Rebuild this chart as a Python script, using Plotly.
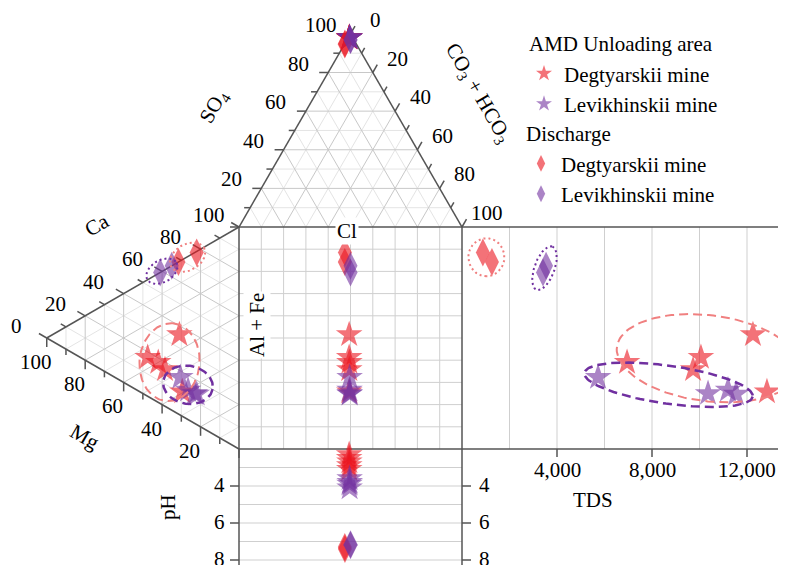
import math
import plotly.graph_objects as go

# ---------------- data (percent of meq, TDS mg/L, pH) ----------------
# AMD unloading area - Degtyarskii mine (stars)
deg_amd_so4 = [98.0, 97.8, 98.2, 97.9, 98.1]
deg_amd_cl = [1.6, 1.7, 1.4, 1.6, 1.5]
deg_amd_hco3 = [0.4, 0.5, 0.4, 0.5, 0.4]
deg_amd_ca = [36.0, 17.5, 18.0, 16.5, 11.0]
deg_amd_mg = [31.0, 47.5, 42.0, 38.5, 29.5]
deg_amd_alfe = [33.0, 35.0, 40.0, 45.0, 59.5]
deg_amd_tds = [12250, 10060, 6950, 9730, 12840]
deg_amd_ph = [2.3, 2.5, 2.7, 2.9, 3.1]

# AMD unloading area - Levikhinskii mine (stars)
lev_amd_so4 = [98.0, 98.1, 97.9, 98.0]
lev_amd_cl = [1.4, 1.3, 1.5, 1.4]
lev_amd_hco3 = [0.6, 0.6, 0.6, 0.6]
lev_amd_ca = [17.0, 13.5, 13.3, 13.7]
lev_amd_mg = [30.5, 23.0, 26.5, 22.0]
lev_amd_alfe = [52.5, 63.5, 60.2, 64.3]
lev_amd_tds = [5730, 10360, 11200, 11540]
lev_amd_ph = [3.6, 3.8, 3.9, 4.1]

# Discharge - Degtyarskii mine (diamonds)
deg_dis_so4 = [95.0, 94.5]
deg_dis_cl = [5.0, 5.3]
deg_dis_hco3 = [0.0, 0.2]
deg_dis_ca = [77.5, 68.5]
deg_dis_mg = [22.0, 31.5]
deg_dis_alfe = [0.5, 0.0]
deg_dis_tds = [880, 1260]
deg_dis_ph = [7.4, 7.3]

# Discharge - Levikhinskii mine (diamonds)
lev_dis_so4 = [97.0, 96.8]
lev_dis_cl = [1.5, 1.6]
lev_dis_hco3 = [1.5, 1.6]
lev_dis_ca = [65.0, 59.0]
lev_dis_mg = [35.0, 41.0]
lev_dis_alfe = [0.0, 0.0]
lev_dis_tds = [3540, 3410]
lev_dis_ph = [7.2, 7.15]

tern_ticks = [0, 20, 40, 60, 80, 100]
ph_ticks = [4, 6, 8]
tds_ticks = [4000, 8000, 12000]
tds_tick_text = ["4,000", "8,000", "12,000"]

# ---------------- diagram geometry (page pixels) ----------------
W, H = 786, 565
OFF = 8  # page body margin of the exported html
SQ_L, SQ_R, SQ_T, SQ_B = 239.0, 462.0, 227.0, 449.0
SX = SQ_R - SQ_L
SY = SQ_B - SQ_T
R3 = math.sqrt(3) / 2
APEX_TOP = ((SQ_L + SQ_R) / 2, SQ_T - SX * R3)
APEX_LEFT = (SQ_L - SY * R3, (SQ_T + SQ_B) / 2)
AN_CORNERS = [APEX_TOP, (SQ_L, SQ_T), (SQ_R, SQ_T)]      # SO4, Cl, CO3+HCO3
CAT_CORNERS = [(SQ_L, SQ_T), APEX_LEFT, (SQ_L, SQ_B)]    # Ca, Mg, Al+Fe
TDS_PX = 95.0 / 4000.0
PH0, PH_PX = 2.0, 18.5

FONT = "Liberation Serif"
FS = 21
DARK = "#555555"


def tern(a, b, c, corners):
    s = a + b + c
    return (sum(v * p[0] for v, p in zip((a, b, c), corners)) / s,
            sum(v * p[1] for v, p in zip((a, b, c), corners)) / s)


def tds_x(t):
    return SQ_R + t * TDS_PX


def ph_y(p):
    return SQ_B + (p - PH0) * PH_PX


fig = go.Figure()


def add_segs(segs, color, width, dash=None):
    xs, ys = [], []
    for (x0, y0), (x1, y1) in segs:
        xs += [x0, x1, None]
        ys += [y0, y1, None]
    fig.add_trace(go.Scatter(x=xs, y=ys, mode="lines", hoverinfo="skip", showlegend=False,
                             line=dict(color=color, width=width, dash=dash)))


def tern_grid(corners, levels):
    segs = []
    for v in levels:
        f = v / 100.0
        for i in range(3):
            p0 = [0, 0, 0]
            p1 = [0, 0, 0]
            p0[i] = p1[i] = f
            p0[(i + 1) % 3] = 1 - f
            p1[(i + 2) % 3] = 1 - f
            segs.append((tern(*p0, corners), tern(*p1, corners)))
    return segs


minor = [10, 30, 50, 70, 90]
major = [20, 40, 60, 80]
add_segs(tern_grid(AN_CORNERS, minor) + tern_grid(CAT_CORNERS, minor), "#e4e4e4", 1)
add_segs(tern_grid(AN_CORNERS, major) + tern_grid(CAT_CORNERS, major), "#c8c8c8", 1)

# square grid
sq = []
for i in range(1, 10):
    x = SQ_L + SX * i / 10
    y = SQ_T + SY * i / 10
    sq.append(((x, SQ_T), (x, SQ_B)))
    sq.append(((SQ_L, y), (SQ_R, y)))
# pH grid
for p in range(3, 9):
    sq.append(((SQ_L, ph_y(p)), (SQ_R, ph_y(p))))
# TDS grid
for t in range(2000, 14000, 2000):
    sq.append(((tds_x(t), SQ_T), (tds_x(t), SQ_B)))
add_segs(sq, "#cfcfcf", 1)

# outlines
out = [
    ((SQ_L, SQ_T), APEX_TOP), (APEX_TOP, (SQ_R, SQ_T)),
    ((SQ_L, SQ_T), APEX_LEFT), (APEX_LEFT, (SQ_L, SQ_B)),
    ((SQ_L, SQ_T), (W + 5, SQ_T)), ((SQ_L, SQ_B), (W + 5, SQ_B)),
    ((SQ_L, SQ_T), (SQ_L, H + 5)), ((SQ_R, SQ_T), (SQ_R, H + 5)),
]
ticks = []
annotations = []


def ann(x, y, text, angle=0, **kw):
    d = dict(x=x, y=y, xref="x", yref="y", text=text, showarrow=False, textangle=angle,
             font=dict(family=FONT, size=FS, color="black"))
    d.update(kw)
    annotations.append(d)


def edge_ticks(point_fn, direction, lab_off, labels):
    dx, dy = direction
    for v in range(0, 101, 10):
        x, y = point_fn(v / 100.0)
        L = 9 if v % 20 == 0 else 6
        ticks.append(((x, y), (x + dx * L, y + dy * L)))
        if v in labels:
            ann(x + lab_off[0], y + lab_off[1], str(v))


# SO4 on the Cl-SO4 edge
edge_ticks(lambda f: tern(f, 1 - f, 0, AN_CORNERS), (-1, 0), (-30, -9), [20, 40, 60, 80, 100])
# CO3+HCO3 on the SO4-CO3 edge
edge_ticks(lambda f: tern(1 - f, 0, f, AN_CORNERS), (0.5, -R3), (25, -14), tern_ticks)
# Ca on the Mg-Ca edge
edge_ticks(lambda f: tern(f, 1 - f, 0, CAT_CORNERS), (-R3, -0.5), (-30, -12), tern_ticks)
# Mg on the Mg-AlFe edge
edge_ticks(lambda f: tern(0, f, 1 - f, CAT_CORNERS), (0, 1), (-11, 24), [20, 40, 60, 80, 100])

for p in ph_ticks:
    y = ph_y(p)
    ticks.append(((SQ_L, y), (SQ_L - 9, y)))
    ticks.append(((SQ_R, y), (SQ_R + 9, y)))
    ann(SQ_L - 12, y - 1, str(p), xanchor="right")
    ann(SQ_R + 15, y - 1, str(p), xanchor="left")
for t, s in zip(tds_ticks, tds_tick_text):
    ticks.append(((tds_x(t), SQ_B), (tds_x(t), SQ_B + 8)))
    ann(tds_x(t), SQ_B + 21, s)

add_segs(out + ticks, DARK, 1.5)

# axis titles
ann(214, 107, "SO<sub>4</sub>", -60)
ann(478, 93, "CO<sub>3</sub> + HCO<sub>3</sub>", 60)
ann(97, 225, "Ca", -30)
ann(85, 437, "Mg", 30)
ann(347, 231, "Cl", bgcolor="white")
ann(257, 325, "Al + Fe", -90, bgcolor="white")
ann(168, 507, "pH", -90)
ann(593, 500, "TDS")

# ---------------- samples ----------------
RED = "rgba(235,20,30,0.6)"
PUR = "rgba(115,50,160,0.6)"
RED_L = "#f08080"
PUR_L = "#7030a0"

groups = [
    ("amd", "legend", "AMD Unloading area", "Degtyarskii mine", "star", RED,
     deg_amd_so4, deg_amd_cl, deg_amd_hco3, deg_amd_ca, deg_amd_mg, deg_amd_alfe, deg_amd_tds, deg_amd_ph),
    ("amd", "legend", "AMD Unloading area", "Levikhinskii mine", "star", PUR,
     lev_amd_so4, lev_amd_cl, lev_amd_hco3, lev_amd_ca, lev_amd_mg, lev_amd_alfe, lev_amd_tds, lev_amd_ph),
    ("dis", "legend2", "Discharge", "Degtyarskii mine", "diamond-tall", RED,
     deg_dis_so4, deg_dis_cl, deg_dis_hco3, deg_dis_ca, deg_dis_mg, deg_dis_alfe, deg_dis_tds, deg_dis_ph),
    ("dis", "legend2", "Discharge", "Levikhinskii mine", "diamond-tall", PUR,
     lev_dis_so4, lev_dis_cl, lev_dis_hco3, lev_dis_ca, lev_dis_mg, lev_dis_alfe, lev_dis_tds, lev_dis_ph),
]

panel_pts = {}
for gid, leg, gtitle, name, sym, col, so4, cl, hco3, ca, mg, alfe, tds, ph in groups:
    an = [tern(a, b, c, AN_CORNERS) for a, b, c in zip(so4, cl, hco3)]
    ct = [tern(a, b, c, CAT_CORNERS) for a, b, c in zip(ca, mg, alfe)]
    sqp = [(a[0], c[1]) for a, c in zip(an, ct)]
    tdp = [(tds_x(t), c[1]) for t, c in zip(tds, ct)]
    php = [(a[0], ph_y(p)) for a, p in zip(an, ph)]
    panel_pts[(gid, name, "cat")] = ct
    panel_pts[(gid, name, "tds")] = tdp
    pts = an + ct + sqp + tdp + php
    fig.add_trace(go.Scatter(
        x=[p[0] for p in pts], y=[p[1] for p in pts], mode="markers", name=name,
        legend=leg, legendgroup=gid,
        legendgrouptitle=dict(text=gtitle, font=dict(family=FONT, size=FS, color="black")),
        marker=dict(symbol=sym, size=20, color=col, line=dict(width=0)),
    ))


# ---------------- group outlines (ellipses around sample clusters) ----------------
def ellipse(pts, dx, dy, a, b, ang, color, width, dash):
    cx = sum(p[0] for p in pts) / len(pts) + dx
    cy = sum(p[1] for p in pts) / len(pts) + dy
    th = math.radians(ang)
    xs, ys = [], []
    for k in range(121):
        t = 2 * math.pi * k / 120
        xs.append(cx + a * math.cos(t) * math.cos(th) - b * math.sin(t) * math.sin(th))
        ys.append(cy + a * math.cos(t) * math.sin(th) + b * math.sin(t) * math.cos(th))
    fig.add_trace(go.Scatter(x=xs, y=ys, mode="lines", hoverinfo="skip", showlegend=False,
                             line=dict(color=color, width=width, dash=dash)))


DOT = "2px,3px"
ellipse(panel_pts[("dis", "Degtyarskii mine", "cat")], 0, 0, 19, 13, -30, RED_L, 2, DOT)
ellipse(panel_pts[("dis", "Levikhinskii mine", "cat")], -4, 2, 17, 11, -30, PUR_L, 2, DOT)
ellipse(panel_pts[("amd", "Degtyarskii mine", "cat")], 3, -1, 39, 30, -85, RED_L, 2, "9px,5px")
ellipse(panel_pts[("amd", "Levikhinskii mine", "cat")], -2, -4, 25, 19, 10, PUR_L, 2.5, "9px,5px")
ellipse(panel_pts[("dis", "Degtyarskii mine", "tds")], -1, 0, 19, 18, 90, RED_L, 2, DOT)
ellipse(panel_pts[("dis", "Levikhinskii mine", "tds")], 0, -1, 23, 10, -70, PUR_L, 2, DOT)
ellipse(panel_pts[("amd", "Degtyarskii mine", "tds")], 0, -5, 92, 43, 7, RED_L, 2, "9px,5px")
ellipse(panel_pts[("amd", "Levikhinskii mine", "tds")], -24, -4, 85, 19, 8, PUR_L, 2.5, "9px,5px")


def legend_box(left, top):
    # left/top in page pixels (the html page has an 8px body margin)
    return dict(x=(left - OFF) / W, y=1 - (top - OFF) / H, xanchor="left", yanchor="top",
                font=dict(family=FONT, size=FS, color="black"),
                bgcolor="rgba(0,0,0,0)", tracegroupgap=0, itemsizing="constant",
                traceorder="grouped")


fig.update_layout(
    width=W, height=H, margin=dict(l=0, r=0, t=0, b=0),
    paper_bgcolor="white", plot_bgcolor="white",
    # axis ranges shifted by the body margin so that axis units equal page pixels
    xaxis=dict(range=[OFF, W + OFF], visible=False, fixedrange=True),
    yaxis=dict(range=[H + OFF, OFF], visible=False, fixedrange=True),
    annotations=annotations,
    showlegend=True,
    legend=legend_box(524, 23),
    legend2=legend_box(521, 113),
)

fig.write_html("out.html")
